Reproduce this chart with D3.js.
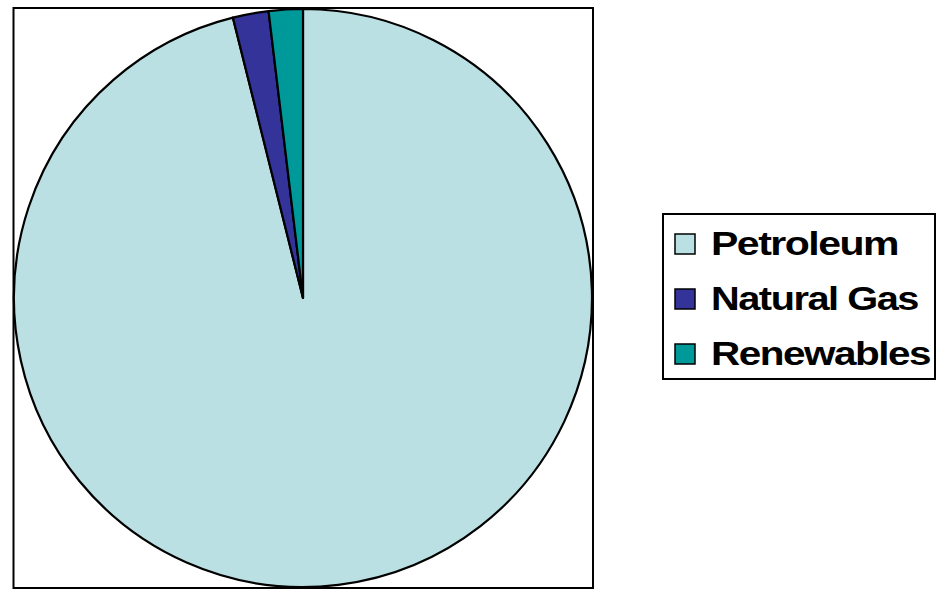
<!DOCTYPE html>
<html><head><meta charset="utf-8">
<script src="https://cdn.jsdelivr.net/npm/d3@7"></script>
<style>html,body{margin:0;padding:0;background:#fff;}svg{display:block;}</style>
</head><body>
<svg id="chart" width="944" height="589"></svg>
<script>
const categories = ["Petroleum", "Natural Gas", "Renewables"];
const values = [96.1, 2.0, 1.9];
const colors = ["#BBE0E3", "#333399", "#009999"];
const labelWidths = [187, 207, 219];

const svg = d3.select("#chart");
// plot area box
svg.append("rect").attr("x", 13.5).attr("y", 8).attr("width", 579.5).attr("height", 580)
  .attr("fill", "none").attr("stroke", "#000").attr("stroke-width", 2);

const cx = 303, cy = 298, r = 289;
const pie = d3.pie().sort(null).value(d => d.v);
const arc = d3.arc().innerRadius(0).outerRadius(r);
const data = categories.map((c, i) => ({c, v: values[i], col: colors[i]}));
const g = svg.append("g").attr("transform", `translate(${cx},${cy})`);
g.selectAll("path").data(pie(data)).join("path")
  .attr("d", arc).attr("fill", d => d.data.col)
  .attr("stroke", "#000").attr("stroke-width", 2.2).attr("stroke-linejoin", "round");

// legend
const lg = svg.append("g");
lg.append("rect").attr("x", 663).attr("y", 214).attr("width", 272).attr("height", 165)
  .attr("fill", "#fff").attr("stroke", "#000").attr("stroke-width", 2);
const y0 = 255, dy = 55;
data.forEach((d, i) => {
  const by = y0 + i * dy;
  lg.append("rect").attr("x", 675).attr("y", by - 21).attr("width", 20).attr("height", 20)
    .attr("fill", d.col).attr("stroke", "#000").attr("stroke-width", 1.5);
  const t = lg.append("text").attr("x", 0).attr("y", 0)
    .attr("font-family", "Liberation Sans, Arial, sans-serif").attr("font-weight", "bold")
    .attr("font-size", 32.5).attr("letter-spacing", -1.2)
    .attr("fill", "#000").text(d.c);
  const w = t.node().getComputedTextLength();
  const sx = labelWidths[i] / w;
  t.attr("transform", `translate(711,${by}) scale(${sx},1)`);
});
</script>
</body></html>
